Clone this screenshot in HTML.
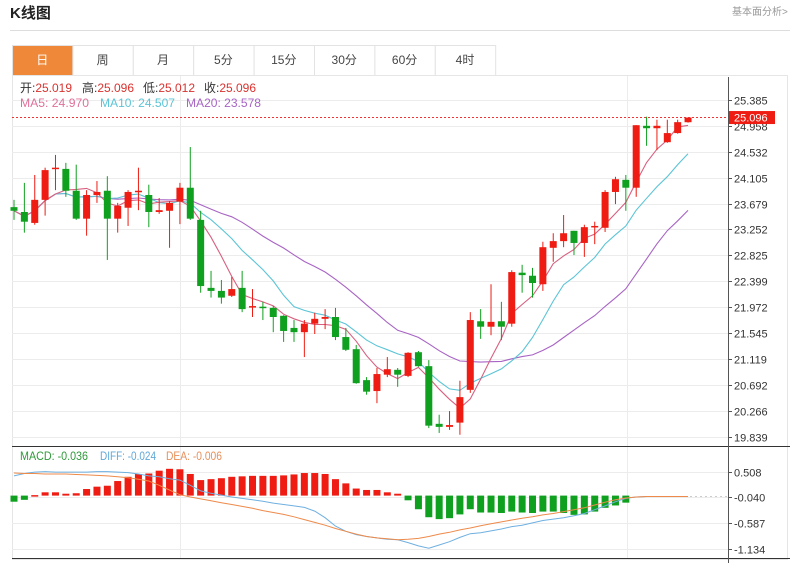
<!DOCTYPE html>
<html><head><meta charset="utf-8">
<style>
body{margin:0;background:#fff;width:800px;height:563px;overflow:hidden;font-family:"Liberation Sans","Noto Sans CJK SC",sans-serif;}
svg text{font-family:"Liberation Sans","Noto Sans CJK SC",sans-serif;}
</style></head>
<body>
<svg id="chart" width="800" height="563" xmlns="http://www.w3.org/2000/svg">
  <text x="10" y="18" font-size="15" font-weight="bold" fill="#222">K线图</text>
  <text x="732" y="15" font-size="10" fill="#999">基本面分析&gt;</text>
  <line x1="10" y1="30.5" x2="790" y2="30.5" stroke="#ddd"/>
  <g id="tabs"></g>
  <rect x="12.5" y="75.5" width="775" height="484" fill="none" stroke="#e6e6e6"/>
  <g id="grid"></g>
  <g id="ma"></g>
  <g id="candles"></g>
  <g id="macd"></g>
  <g id="axis"></g>
  <g font-size="12">
    <text x="20" y="92" fill="#333" textLength="52" lengthAdjust="spacingAndGlyphs">开:<tspan fill="#d8332f">25.019</tspan></text>
    <text x="82" y="92" fill="#333" textLength="52" lengthAdjust="spacingAndGlyphs">高:<tspan fill="#d8332f">25.096</tspan></text>
    <text x="143" y="92" fill="#333" textLength="52" lengthAdjust="spacingAndGlyphs">低:<tspan fill="#d8332f">25.012</tspan></text>
    <text x="204" y="92" fill="#333" textLength="52" lengthAdjust="spacingAndGlyphs">收:<tspan fill="#d8332f">25.096</tspan></text>
    <text x="20" y="107" fill="#e0709a" textLength="69" lengthAdjust="spacingAndGlyphs">MA5: 24.970</text>
    <text x="100" y="107" fill="#5bc4d6" textLength="75" lengthAdjust="spacingAndGlyphs">MA10: 24.507</text>
    <text x="186" y="107" fill="#a864c4" textLength="75" lengthAdjust="spacingAndGlyphs">MA20: 23.578</text>
  </g>
  <g font-size="12">
    <text x="20" y="460" fill="#2f9a3a" textLength="68" lengthAdjust="spacingAndGlyphs">MACD: -0.036</text>
    <text x="100" y="460" fill="#5fa8d8" textLength="56" lengthAdjust="spacingAndGlyphs">DIFF: -0.024</text>
    <text x="166" y="460" fill="#e8905a" textLength="56" lengthAdjust="spacingAndGlyphs">DEA: -0.006</text>
  </g>
</svg>
<script>
const opens  =[23.62,23.54,23.36,23.74,24.25,24.25,23.89,23.43,23.82,23.89,23.43,23.61,23.87,23.82,23.54,23.56,23.71,23.94,23.41,22.29,22.24,22.16,22.29,21.98,21.98,21.96,21.83,21.63,21.56,21.70,21.78,21.81,21.48,21.28,20.77,20.59,20.86,20.94,20.84,21.23,21.00,20.05,20.00,20.07,20.61,21.74,21.65,21.74,21.70,22.54,22.49,22.35,22.95,23.06,23.23,23.03,23.29,23.28,23.87,24.07,23.94,24.96,24.92,24.69,24.84,25.019];
const closes =[23.56,23.38,23.74,24.23,24.27,23.89,23.43,23.82,23.87,23.43,23.64,23.87,23.89,23.54,23.57,23.69,23.94,23.43,22.32,22.24,22.13,22.27,21.94,21.99,21.96,21.81,21.58,21.56,21.70,21.78,21.81,21.48,21.27,20.72,20.58,20.87,20.95,20.86,21.22,21.00,20.02,20.00,20.03,20.49,21.76,21.65,21.73,21.65,22.55,22.50,22.37,22.96,23.06,23.19,23.03,23.29,23.31,23.87,24.08,23.94,24.97,24.92,24.96,24.84,25.02,25.096];
const highs  =[23.74,24.02,24.15,24.27,24.48,24.35,24.32,23.90,24.05,24.13,23.69,23.90,24.27,23.99,23.77,23.72,24.02,24.61,23.56,22.57,22.42,22.47,22.57,22.27,22.06,21.99,21.84,21.76,21.76,21.88,21.94,21.96,21.63,21.35,20.82,20.97,21.15,20.97,21.23,21.25,21.10,20.20,20.26,20.76,21.89,21.94,22.35,22.06,22.58,22.67,22.62,23.05,23.19,23.49,23.23,23.33,23.38,23.90,24.12,24.15,24.97,25.11,25.06,25.06,25.06,25.096];
const lows   =[23.41,23.20,23.33,23.48,23.90,23.79,23.41,23.15,23.69,22.75,23.20,23.31,23.57,23.29,23.51,22.95,23.34,23.41,22.21,22.13,22.03,22.14,21.89,21.81,21.76,21.56,21.40,21.40,21.15,21.53,21.61,21.43,21.25,20.71,20.53,20.39,20.82,20.66,20.82,20.99,19.98,19.90,19.95,19.87,20.56,21.45,21.51,21.43,21.65,22.21,22.13,22.24,22.72,22.96,22.83,22.80,23.01,23.21,23.67,23.56,23.79,24.63,24.56,24.68,24.83,25.012];
const macdHist=[-0.13,-0.09,0.01,0.07,0.07,0.04,0.05,0.14,0.19,0.21,0.31,0.40,0.46,0.47,0.53,0.57,0.56,0.46,0.33,0.35,0.37,0.40,0.41,0.42,0.42,0.42,0.43,0.45,0.48,0.48,0.46,0.35,0.26,0.15,0.12,0.12,0.07,0.04,-0.10,-0.29,-0.46,-0.50,-0.48,-0.40,-0.29,-0.36,-0.36,-0.37,-0.34,-0.36,-0.37,-0.34,-0.34,-0.37,-0.41,-0.40,-0.34,-0.26,-0.21,-0.15,0,0,0,0,0,0];
const diffVals=[0.42,0.47,0.50,0.51,0.50,0.50,0.50,0.50,0.51,0.51,0.50,0.49,0.46,0.42,0.40,0.36,0.33,0.22,0.10,0.05,0.01,-0.03,-0.06,-0.09,-0.12,-0.16,-0.19,-0.22,-0.25,-0.33,-0.47,-0.65,-0.76,-0.83,-0.87,-0.90,-0.93,-0.94,-1.00,-1.07,-1.12,-1.05,-0.98,-0.89,-0.81,-0.79,-0.75,-0.71,-0.66,-0.63,-0.58,-0.53,-0.50,-0.47,-0.43,-0.38,-0.30,-0.22,-0.13,-0.06,-0.03,-0.02,-0.02,-0.02,-0.02,-0.02];
const deaVals=[0.48,0.47,0.47,0.46,0.46,0.46,0.45,0.44,0.43,0.42,0.40,0.38,0.35,0.31,0.22,0.12,0.02,-0.03,-0.07,-0.11,-0.15,-0.19,-0.23,-0.27,-0.32,-0.36,-0.40,-0.45,-0.51,-0.57,-0.63,-0.70,-0.76,-0.82,-0.87,-0.90,-0.92,-0.94,-0.93,-0.91,-0.87,-0.82,-0.78,-0.73,-0.69,-0.64,-0.60,-0.56,-0.52,-0.48,-0.45,-0.41,-0.38,-0.34,-0.30,-0.26,-0.20,-0.14,-0.09,-0.05,-0.03,-0.02,-0.02,-0.02,-0.02,-0.02];
const priceTicks=["25.385","24.958","24.532","24.105","23.679","23.252","22.825","22.399","21.972","21.545","21.119","20.692","20.266","19.839"];
const macdTicks=["0.508","-0.040","-0.587","-1.134"];
const tabLabels=["日","周","月","5分","15分","30分","60分","4时"];
const lastPrice=25.096;

const NS="http://www.w3.org/2000/svg";
function mk(tag,attrs,parent,txt){const e=document.createElementNS(NS,tag);for(const k in attrs)e.setAttribute(k,attrs[k]);if(txt!==undefined)e.textContent=txt;parent.appendChild(e);return e;}
const xOf=i=>14+i*10.37;
const yP=p=>100+(25.385-p)*60.7;
const yM=v=>495.6-v*47;
const RED="#ee1c12",GREEN="#10a020";

const tabs=document.getElementById('tabs');
tabLabels.forEach((t,i)=>{
  const g=mk('g',{},tabs);
  
  
  const x=12+i*60.4;
  mk('rect',{x:x+0.5,y:45.5,width:60.4,height:30,fill:i===0?'#f0883a':'#fff',stroke:'#e3e3e3'},g);
  mk('text',{x:x+30.2,y:64,'font-size':12,'text-anchor':'middle',fill:i===0?'#fff':'#444'},g,t);
});

const grid=document.getElementById('grid'), axis=document.getElementById('axis');
priceTicks.forEach(t=>{
  const y=Math.round(yP(+t))+0.5;
  mk('line',{x1:12,y1:y,x2:728,y2:y,stroke:'#ececec'},grid);
  mk('line',{x1:728,y1:y,x2:732,y2:y,stroke:'#555'},axis);
  const lb=mk('text',{x:734,y:y+4,'font-size':11,fill:'#333'},axis,t);
  
  
});
macdTicks.forEach(t=>{
  const y=Math.round(yM(+t))+0.5;
  mk('line',{x1:12,y1:y,x2:728,y2:y,stroke:'#ececec'},grid);
  mk('line',{x1:728,y1:y,x2:732,y2:y,stroke:'#555'},axis);
  const lb=mk('text',{x:734,y:y+4,'font-size':11,fill:'#333'},axis,t);
  
  
});
[180.5,627.5].forEach(x=>mk('line',{x1:x,y1:76,x2:x,y2:559,stroke:'#ececec'},grid));
mk('line',{x1:12,y1:446.5,x2:790,y2:446.5,stroke:'#333'},axis);
mk('line',{x1:12,y1:558.5,x2:790,y2:558.5,stroke:'#333'},axis);
mk('line',{x1:728.5,y1:77,x2:728.5,y2:563,stroke:'#555'},axis);
mk('line',{x1:690,y1:yM(-0.02),x2:727,y2:yM(-0.02),stroke:'#ccc','stroke-dasharray':'2,3'},axis);

const ma=document.getElementById('ma');
function maLine(n,color,name){
  let pts=[];
  for(let i=0;i<closes.length;i++){
    const s=closes.slice(Math.max(0,i-n+1),i+1);
    const v=s.reduce((a,b)=>a+b,0)/s.length;
    pts.push(xOf(i).toFixed(1)+','+yP(v).toFixed(1));
  }
  const l=mk('polyline',{points:pts.join(' '),fill:'none',stroke:color,'stroke-width':1.1},ma);
  
  
}
maLine(20,'#a864c4','ma20-line');
maLine(10,'#5bc4d6','ma10-line');
maLine(5,'#d8607f','ma5-line');

const cg=document.getElementById('candles');
closes.forEach((c,i)=>{
  const o=opens[i],up=c>=o,col=up?RED:GREEN,x=xOf(i);
  const g=mk('g',{},cg);
  
  
  mk('line',{x1:x,y1:yP(highs[i]),x2:x,y2:yP(lows[i]),stroke:col,'stroke-width':1},g);
  const top=yP(Math.max(o,c)),bot=yP(Math.min(o,c));
  mk('rect',{x:x-3.5,y:top,width:7,height:Math.max(1.5,bot-top),fill:col},g);
});

const lp=yP(lastPrice);
const dl=mk('line',{x1:12,y1:lp,x2:728,y2:lp,stroke:'#e33','stroke-dasharray':'2,2','stroke-width':1},axis);


mk('rect',{x:729,y:lp-6.5,width:46,height:13,fill:'#ee1c12'},axis);
const lpl=mk('text',{x:734,y:lp+4,'font-size':11,fill:'#fff'},axis,lastPrice.toFixed(3));



const mg=document.getElementById('macd');
const y0=yM(0);
macdHist.forEach((v,i)=>{
  if(v===0)return;
  const y=yM(v);
  const b=mk('rect',{x:xOf(i)-3.5,y:Math.min(y,y0),width:7,height:Math.max(1.5,Math.abs(y-y0)),fill:v>0?RED:GREEN},mg);
  
  
});
function mline(arr,color,name){
  const l=mk('polyline',{points:arr.map((v,i)=>xOf(i).toFixed(1)+','+yM(v).toFixed(1)).join(' '),fill:'none',stroke:color,'stroke-width':1},mg);
  
  
}
mline(diffVals,'#6fb0e0','diff-line');
mline(deaVals,'#ee8a4a','dea-line');
</script>
</body></html>
